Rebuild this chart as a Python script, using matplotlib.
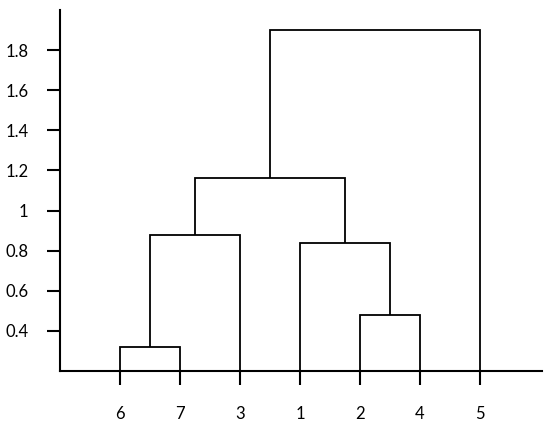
import matplotlib.pyplot as plt

# leaves in display order
leaf_labels = ['6', '7', '3', '1', '2', '4', '5']
# merges: (left cluster, right cluster, height); clusters named by leaf label or merge id
merge_left = ['6', '2', '1', 'm0', 'm3', 'm4']
merge_right = ['7', '4', 'm1', '3', 'm2', '5']
merge_height = [0.32, 0.48, 0.84, 0.88, 1.16, 1.90]
y_ticks = [0.4, 0.6, 0.8, 1.0, 1.2, 1.4, 1.6, 1.8]
y_tick_labels = ['0.4', '0.6', '0.8', '1', '1.2', '1.4', '1.6', '1.8']

plt.rcParams['font.family'] = ['Lato', 'DejaVu Sans']

fig = plt.figure(figsize=(5.5, 4.29), dpi=100)
ax = fig.add_axes([0.109, 0.135, 0.876, 0.842])

base = 0.2
pos = {}
top = {}
for i, lab in enumerate(leaf_labels):
    pos[lab] = i + 1
    top[lab] = base

for k, (a, b, h) in enumerate(zip(merge_left, merge_right, merge_height)):
    xa, xb = pos[a], pos[b]
    ax.plot([xa, xa, xb, xb], [top[a], h, h, top[b]], color='black', lw=1.3,
            solid_joinstyle='miter', solid_capstyle='butt')
    name = 'm%d' % k
    pos[name] = (xa + xb) / 2
    top[name] = h

ax.set_xlim(0, 8.03)
ax.set_ylim(base, 2.0)
ax.set_xticks(range(1, len(leaf_labels) + 1))
ax.set_xticklabels(leaf_labels)
ax.set_yticks(y_ticks)
ax.set_yticklabels(y_tick_labels)

for s in ['top', 'right']:
    ax.spines[s].set_visible(False)
for s in ['left', 'bottom']:
    ax.spines[s].set_linewidth(1.5)

ax.tick_params(axis='x', length=10, width=1.5, pad=15, labelsize=12)
ax.tick_params(axis='y', length=9.5, width=1.5, pad=13, labelsize=12)

fig.savefig('out.png', dpi=100)
